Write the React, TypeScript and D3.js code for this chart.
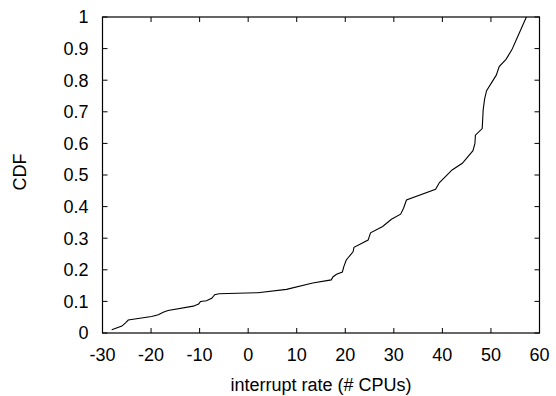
import React from "react";
import * as d3 from "d3";

const xValues = [-28.1, -26.0, -25.2, -24.7, -19.9, -18.5, -17.5, -16.5, -11.3, -10.2, -9.8, -8.6, -7.5, -6.9, -6.0, 2.0, 7.9, 13.3, 17.1, 17.5, 18.2, 19.4, 19.7, 20.2, 21.6, 21.8, 24.7, 25.2, 27.7, 29.5, 31.4, 32.0, 32.6, 38.6, 39.4, 42.0, 44.1, 46.3, 46.7, 46.8, 48.2, 48.4, 48.7, 49.1, 51.1, 51.7, 53.1, 54.3, 55.2, 57.3];
const cdfValues = [0.010, 0.022, 0.033, 0.041, 0.052, 0.058, 0.066, 0.071, 0.085, 0.092, 0.100, 0.102, 0.110, 0.121, 0.124, 0.1275, 0.138, 0.158, 0.168, 0.178, 0.186, 0.193, 0.210, 0.231, 0.257, 0.271, 0.294, 0.317, 0.337, 0.360, 0.376, 0.395, 0.421, 0.455, 0.476, 0.516, 0.537, 0.577, 0.600, 0.626, 0.647, 0.706, 0.741, 0.767, 0.816, 0.843, 0.866, 0.896, 0.927, 1.0];
const xTicks = [-30, -20, -10, 0, 10, 20, 30, 40, 50, 60];
const yTicks = [0, 0.1, 0.2, 0.3, 0.4, 0.5, 0.6, 0.7, 0.8, 0.9, 1];
const xTitle = "interrupt rate (# CPUs)";
const yTitle = "CDF";

export default function App() {
  const W = 556, H = 396;
  const left = 102.5, right = 539.5, top = 17, bottom = 333;
  const x = d3.scaleLinear().domain([-30, 60]).range([left, right]);
  const y = d3.scaleLinear().domain([0, 1]).range([bottom, top]);
  const pts: [number, number][] = xValues.map((v, i) => [v, cdfValues[i]]);
  const line = d3.line<[number, number]>().x(d => x(d[0])).y(d => y(d[1]))(pts) || "";
  const tl = 5;
  const font = "'Liberation Sans', Arial, Helvetica, sans-serif";
  return (
    <svg width={W} height={H} style={{ position: "absolute", left: 0, top: 0, background: "#fff" }} fontFamily={font}>
      <rect x={0} y={0} width={W} height={H} fill="#fff" />
      {xTicks.map(t => (
        <g key={"x" + t}>
          <line x1={x(t)} x2={x(t)} y1={bottom} y2={bottom - tl} stroke="#000" strokeWidth={1} />
          <line x1={x(t)} x2={x(t)} y1={top} y2={top + tl} stroke="#000" strokeWidth={1} />
          <text x={x(t)} y={361} textAnchor="middle" fontSize={18} fill="#000">{t}</text>
        </g>
      ))}
      {yTicks.map(t => (
        <g key={"y" + t}>
          <line x1={left} x2={left + tl} y1={y(t)} y2={y(t)} stroke="#000" strokeWidth={1} />
          <line x1={right} x2={right - tl} y1={y(t)} y2={y(t)} stroke="#000" strokeWidth={1} />
          <text x={88.5} y={y(t)} dy="0.35em" textAnchor="end" fontSize={18} fill="#000">{t}</text>
        </g>
      ))}
      <rect x={left} y={top} width={right - left} height={bottom - top} fill="none" stroke="#000" strokeWidth={1.2} />
      <path d={line} fill="none" stroke="#000" strokeWidth={1.1} />
      <text x={(left + right) / 2} y={391} textAnchor="middle" fontSize={18} fill="#000">{xTitle}</text>
      <text transform={`translate(26,172) rotate(-90)`} textAnchor="middle" fontSize={18} fill="#000">{yTitle}</text>
    </svg>
  );
}
